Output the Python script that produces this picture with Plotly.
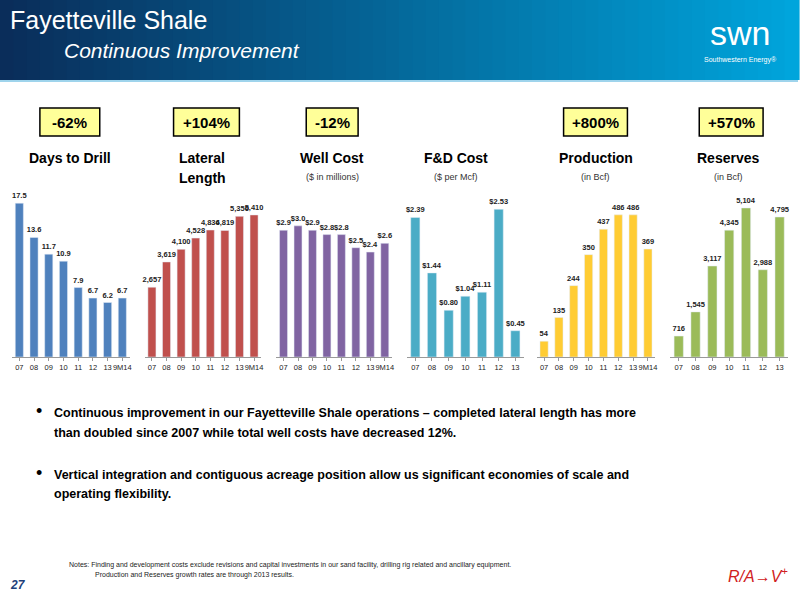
import plotly.graph_objects as go

years_a = ["07", "08", "09", "10", "11", "12", "13", "9M14"]
years_b = ["07", "08", "09", "10", "11", "12", "13"]

days_to_drill = [17.5, 13.6, 11.7, 10.9, 7.9, 6.7, 6.2, 6.7]
lateral_length = [2657, 3619, 4100, 4528, 4836, 4819, 5356, 5410]
well_cost = [2.9, 3.0, 2.9, 2.8, 2.8, 2.5, 2.4, 2.6]
fd_cost = [2.39, 1.44, 0.80, 1.04, 1.11, 2.53, 0.45]
production = [54, 135, 244, 350, 437, 486, 486, 369]
reserves = [716, 1545, 3117, 4345, 5104, 2988, 4795]

changes = ["-62%", "+104%", "-12%", "+800%", "+570%"]

W, H = 800, 600
def px(x): return x / W
def py(y): return 1 - y / H

panels = [
    (years_a, days_to_drill, "#4F81BD", [f"{v:.1f}" for v in days_to_drill], 12, 130, 19.0),
    (years_a, lateral_length, "#C0504D", [f"{v:,}" for v in lateral_length], 145, 262, 6360),
    (years_a, well_cost, "#8064A2", [f"${v:.1f}" for v in well_cost], 277, 393, 3.82),
    (years_b, fd_cost, "#4BACC6", [f"${v:.2f}" for v in fd_cost], 408, 525, 2.86),
    (years_a, production, "#FFCC33", [f"{v}" for v in production], 538, 657, 571),
    (years_b, reserves, "#9BBB59", [f"{v:,}" for v in reserves], 672, 790, 5720),
]

fig = go.Figure()
layout = {}
for i, (cats, vals, col, txt, x0, x1, ymax) in enumerate(panels, start=1):
    xa = "x" if i == 1 else f"x{i}"
    ya = "y" if i == 1 else f"y{i}"
    fig.add_trace(go.Bar(x=cats, y=vals, marker_color=col, width=0.55,
                         text=[f"<b>{t}</b>" for t in txt], textposition="outside",
                         cliponaxis=False, constraintext="none",
                         textfont=dict(size=7.5, color="#222", family="Liberation Sans"),
                         xaxis=xa, yaxis=ya, showlegend=False))
    layout[f"xaxis{'' if i == 1 else i}"] = dict(
        domain=[px(x0), px(x1)], anchor=ya, showgrid=False, showline=True,
        linecolor="#999", ticks="outside", ticklen=3, tickcolor="#999", tickangle=0,
        tickfont=dict(size=7.5, color="#222"), fixedrange=True)
    layout[f"yaxis{'' if i == 1 else i}"] = dict(
        domain=[py(357), py(190)], anchor=xa, range=[0, ymax], visible=False)
fig.update_layout(**layout)

P = dict(xref="paper", yref="paper")
shapes = []
# header gradient
n = 60
c0, c1 = (10, 45, 90), (0, 165, 220)
for k in range(n):
    t = k / (n - 1)
    c = tuple(int(c0[j] + (c1[j] - c0[j]) * t) for j in range(3))
    shapes.append(dict(type="rect", **P,
                       x0=k / n, x1=(k + 1) / n + 0.002, y0=py(80), y1=1,
                       line_width=0, fillcolor=f"rgb{c}", layer="below"))
shapes.append(dict(type="line", **P, x0=0, x1=1,
                   y0=py(81), y1=py(81), line=dict(color="#9fd4ec", width=2)))

box_x = [70, 207, 333, 597, 733]
box_w = [60, 66, 52, 64, 64]
annotations = []
def ann(x, y, text, size, color="black", xanchor="center"):
    annotations.append(dict(**P, x=px(x), y=py(y), text=text, showarrow=False,
                            xanchor=xanchor, yanchor="middle",
                            font=dict(size=size, color=color)))

for bx, bw, lab in zip(box_x, box_w, changes):
    shapes.append(dict(type="rect", **P,
                       x0=px(bx - bw / 2), x1=px(bx + bw / 2), y0=py(136), y1=py(108),
                       fillcolor="#FFFF99", line=dict(color="black", width=1.5)))
    ann(bx, 122, f"<b>{lab}</b>", 15)

titles = [("Days to Drill", None, 70), ("Lateral", None, 203), ("Well Cost", "($ in millions)", 333),
          ("F&D Cost", "($ per Mcf)", 457), ("Production", "(in Bcf)", 597), ("Reserves", "(in Bcf)", 730)]
for t, s, x in titles:
    ann(x, 158, f"<b>{t}</b>", 14)
    if s:
        ann(x, 177, s, 9, "#333")
ann(203, 178, "<b>Length</b>", 14)

# header texts
ann(8, 20, "Fayetteville Shale", 25, "white", "left")
ann(62, 50, "<i>Continuous Improvement</i>", 21, "white", "left")
ann(742, 33, "swn", 34, "white")
ann(742, 60, "Southwestern Energy®", 7, "white")

bullets = [
    (413, "Continuous improvement in our Fayetteville Shale operations – completed lateral length has more"),
    (433, "than doubled since 2007 while total well costs have decreased 12%."),
    (475, "Vertical integration and contiguous acreage position allow us significant economies of scale and"),
    (494, "operating flexibility."),
]
for y, t in bullets:
    ann(52, y, f"<b>{t}</b>", 12.5, "black", "left")
for y in (411, 473):
    ann(34, y, "•", 18, "black", "left")

ann(67, 565, "Notes: Finding and development costs exclude revisions and capital investments in our sand facility, drilling rig related and ancillary equipment.", 7, "#222", "left")
ann(93, 575, "Production and Reserves growth rates are through 2013 results.", 7, "#222", "left")
ann(8, 585, "<b><i>27</i></b>", 12, "#1F3F7A", "left")
ann(760, 575, "<i>R/A→V<sup>+</sup></i>", 16, "#D02020")

fig.update_layout(width=W, height=H, margin=dict(l=0, r=0, t=0, b=0),
                  paper_bgcolor="white", plot_bgcolor="white", bargap=0.4,
                  font=dict(family="Liberation Sans, Arial"),
                  shapes=shapes, annotations=annotations)

fig.write_html("out.html", config={"displayModeBar": False},
               post_script="document.body.style.margin='0';")
